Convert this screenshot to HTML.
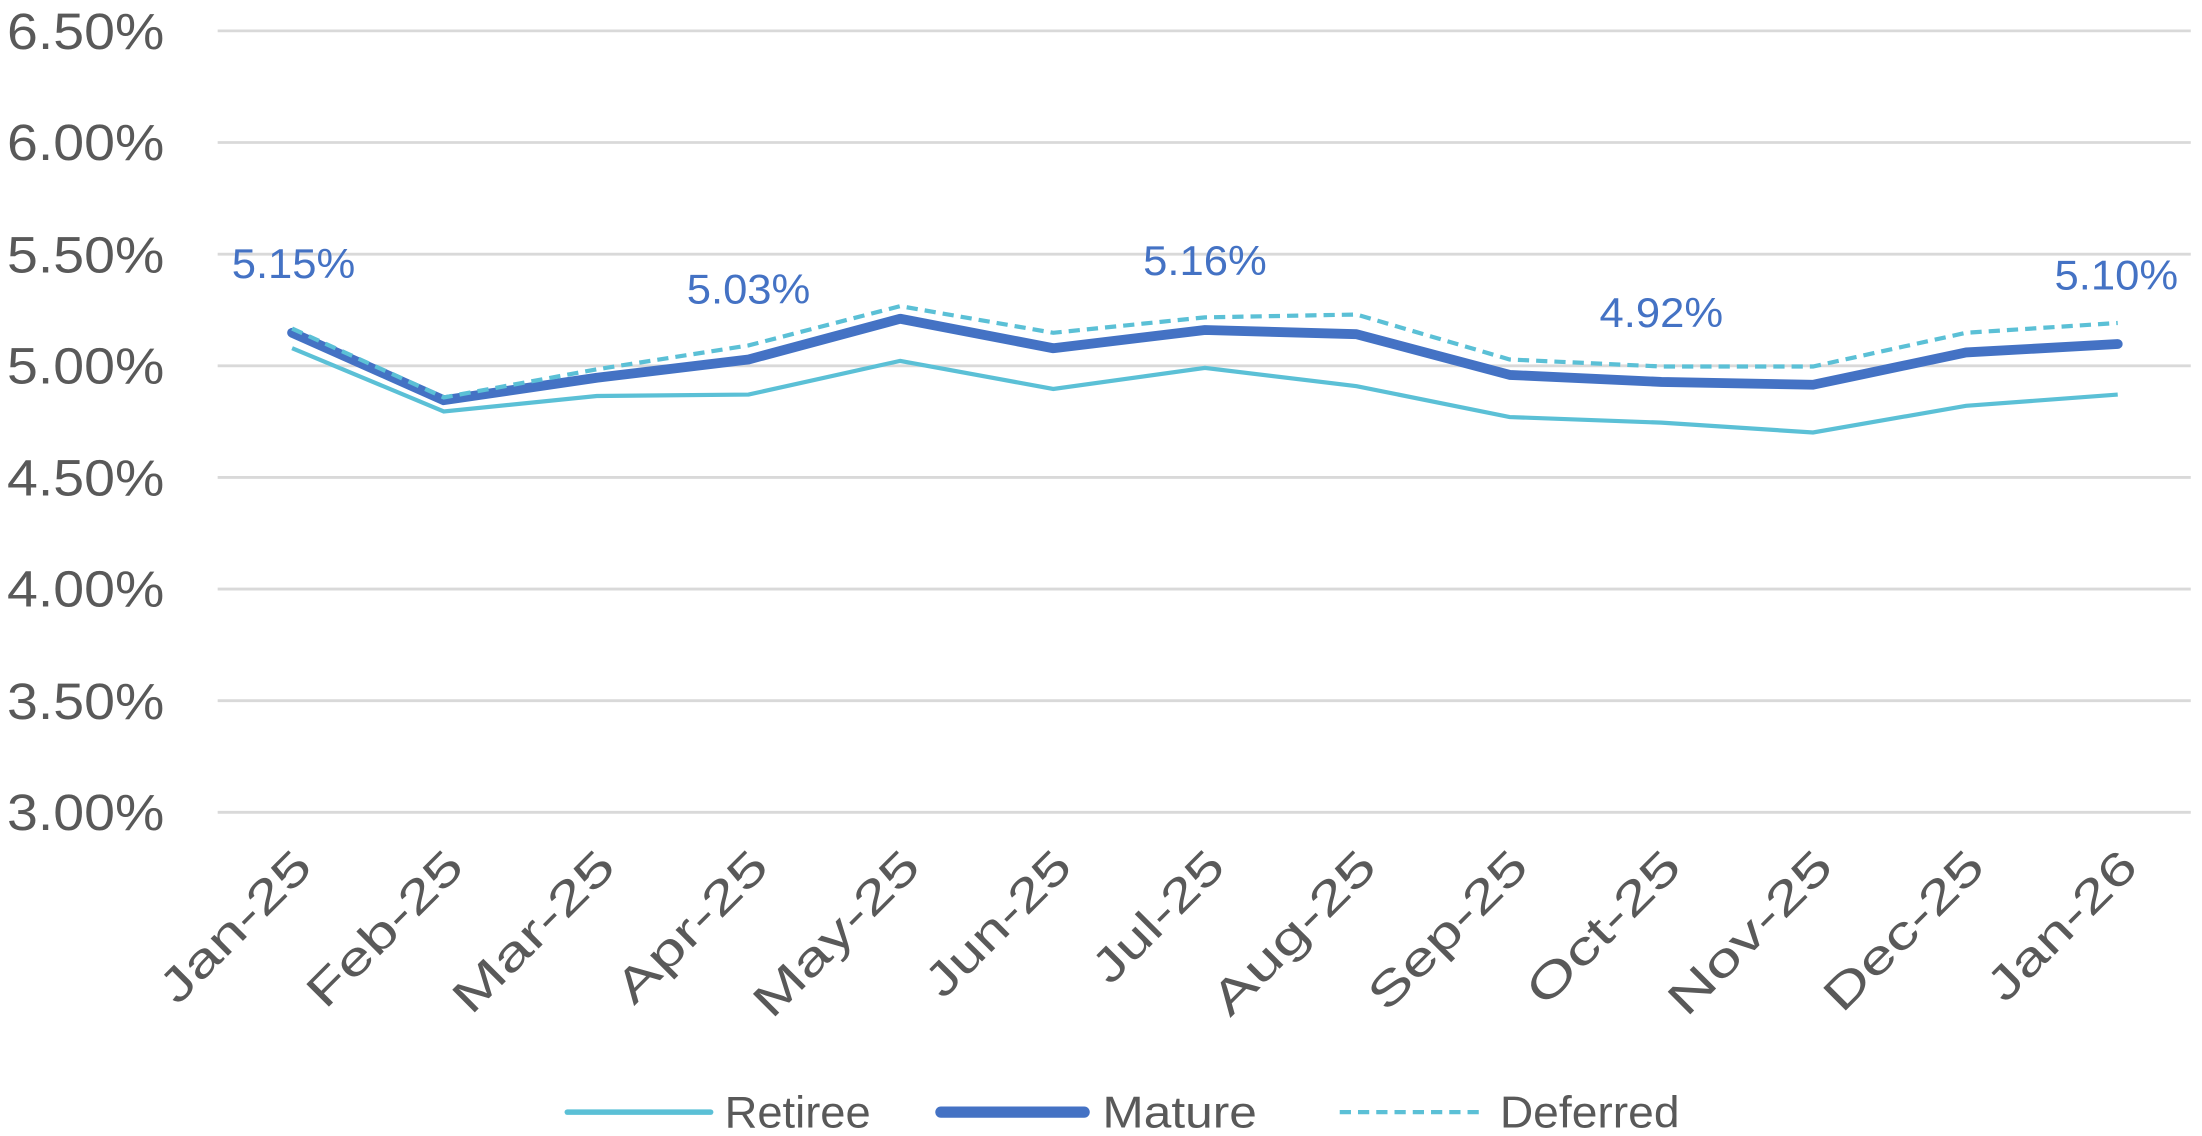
<!DOCTYPE html>
<html><head><meta charset="utf-8"><style>
html,body{margin:0;padding:0;background:#fff;}
svg{display:block;}
</style></head><body>
<svg width="2202" height="1136" viewBox="0 0 1568 809" preserveAspectRatio="none" xmlns="http://www.w3.org/2000/svg" font-family="Liberation Sans, sans-serif">
<g stroke="#d9d9d9" stroke-width="2">
<line x1="155" y1="22" x2="1560" y2="22"/>
<line x1="155" y1="101.5" x2="1560" y2="101.5"/>
<line x1="155" y1="181" x2="1560" y2="181"/>
<line x1="155" y1="260.5" x2="1560" y2="260.5"/>
<line x1="155" y1="340" x2="1560" y2="340"/>
<line x1="155" y1="419.5" x2="1560" y2="419.5"/>
<line x1="155" y1="499" x2="1560" y2="499"/>
<line x1="155" y1="578.5" x2="1560" y2="578.5"/>
</g>
<g fill="#595959" font-size="36" text-anchor="end">
<text x="117" y="35" textLength="112" lengthAdjust="spacingAndGlyphs">6.50%</text>
<text x="117" y="114" textLength="112" lengthAdjust="spacingAndGlyphs">6.00%</text>
<text x="117" y="194" textLength="112" lengthAdjust="spacingAndGlyphs">5.50%</text>
<text x="117" y="273" textLength="112" lengthAdjust="spacingAndGlyphs">5.00%</text>
<text x="117" y="353" textLength="112" lengthAdjust="spacingAndGlyphs">4.50%</text>
<text x="117" y="432" textLength="112" lengthAdjust="spacingAndGlyphs">4.00%</text>
<text x="117" y="512" textLength="112" lengthAdjust="spacingAndGlyphs">3.50%</text>
<text x="117" y="591" textLength="112" lengthAdjust="spacingAndGlyphs">3.00%</text>
</g>
<g fill="#595959" font-size="33" text-anchor="end">
<text transform="translate(224,619) rotate(-45)" textLength="138" lengthAdjust="spacingAndGlyphs">Jan-25</text>
<text transform="translate(332,619) rotate(-45)" textLength="142" lengthAdjust="spacingAndGlyphs">Feb-25</text>
<text transform="translate(440,619) rotate(-45)" textLength="148" lengthAdjust="spacingAndGlyphs">Mar-25</text>
<text transform="translate(549,619) rotate(-45)" textLength="138" lengthAdjust="spacingAndGlyphs">Apr-25</text>
<text transform="translate(657,619) rotate(-45)" textLength="152" lengthAdjust="spacingAndGlyphs">May-25</text>
<text transform="translate(765,619) rotate(-45)" textLength="132" lengthAdjust="spacingAndGlyphs">Jun-25</text>
<text transform="translate(874,619) rotate(-45)" textLength="118" lengthAdjust="spacingAndGlyphs">Jul-25</text>
<text transform="translate(982,619) rotate(-45)" textLength="150" lengthAdjust="spacingAndGlyphs">Aug-25</text>
<text transform="translate(1090,619) rotate(-45)" textLength="145" lengthAdjust="spacingAndGlyphs">Sep-25</text>
<text transform="translate(1199,619) rotate(-45)" textLength="140" lengthAdjust="spacingAndGlyphs">Oct-25</text>
<text transform="translate(1307,619) rotate(-45)" textLength="150" lengthAdjust="spacingAndGlyphs">Nov-25</text>
<text transform="translate(1415,619) rotate(-45)" textLength="146" lengthAdjust="spacingAndGlyphs">Dec-25</text>
<text transform="translate(1524,619) rotate(-45)" textLength="136" lengthAdjust="spacingAndGlyphs">Jan-26</text>
</g>
<polyline fill="none" stroke="#5bc0d6" stroke-width="3" points="208,248 316,293 425,282 533,281 641,257 750,277 858,262 966,275 1075,297 1183,301 1291,308 1400,289 1508,281"/>
<polyline fill="none" stroke="#4472c4" stroke-width="7" stroke-linejoin="round" stroke-linecap="round" points="208,237 316,285 425,269 533,256 641,227 750,248 858,235 966,238 1075,267 1183,272 1291,274 1400,251 1508,245"/>
<polyline fill="none" stroke="#5bc0d6" stroke-width="3" stroke-dasharray="8,5" points="208,234 316,283 425,263 533,246 641,218 750,237 858,226 966,224 1075,256 1183,261 1291,261 1400,237 1508,230"/>
<g fill="#4472c4" font-size="30" text-anchor="middle">
<text x="209" y="198" textLength="88" lengthAdjust="spacingAndGlyphs">5.15%</text>
<text x="533" y="216" textLength="88" lengthAdjust="spacingAndGlyphs">5.03%</text>
<text x="858" y="196" textLength="88" lengthAdjust="spacingAndGlyphs">5.16%</text>
<text x="1183" y="233" textLength="88" lengthAdjust="spacingAndGlyphs">4.92%</text>
<text x="1507" y="206" textLength="88" lengthAdjust="spacingAndGlyphs">5.10%</text>
</g>
<line x1="404" y1="792" x2="506" y2="792" stroke="#5bc0d6" stroke-width="4" stroke-linecap="round"/>
<line x1="670" y1="792" x2="772" y2="792" stroke="#4472c4" stroke-width="8" stroke-linecap="round"/>
<line x1="954" y1="792" x2="1056" y2="792" stroke="#5bc0d6" stroke-width="3" stroke-dasharray="8,5"/>
<g fill="#595959" font-size="32">
<text x="516" y="803" textLength="104" lengthAdjust="spacingAndGlyphs">Retiree</text>
<text x="785" y="803" textLength="110" lengthAdjust="spacingAndGlyphs">Mature</text>
<text x="1068" y="803" textLength="128" lengthAdjust="spacingAndGlyphs">Deferred</text>
</g>
</svg>
</body></html>
